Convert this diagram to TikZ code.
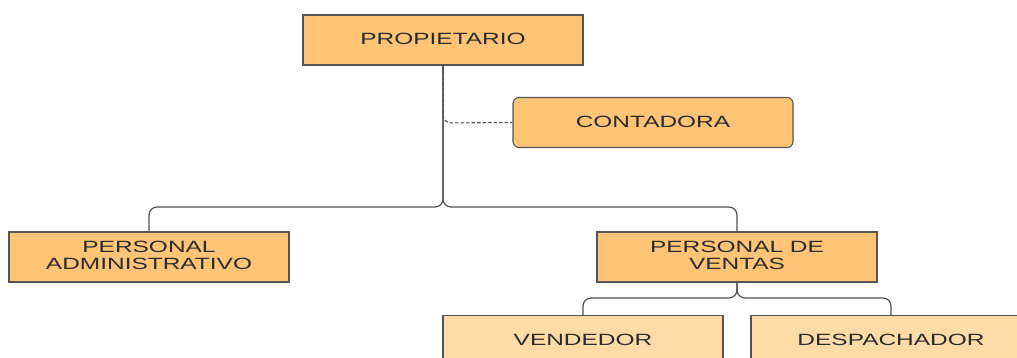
\documentclass[tikz,border=0pt]{standalone}
\usepackage{fontspec}
\newfontfamily\wf[FakeStretch=1.5]{Liberation Sans}
\definecolor{orgfill}{HTML}{FFC475}
\definecolor{ltfill}{HTML}{FFDBA8}
\definecolor{bord}{HTML}{555555}
\definecolor{txt}{HTML}{2B2B2B}
\definecolor{wire}{HTML}{505050}
\tikzset{
  box/.style={draw=bord, line width=1.1pt, fill=orgfill, minimum width=280pt, minimum height=50pt,
    inner sep=0pt, align=center, text=txt, font=\wf\fontsize{16.3pt}{18pt}\selectfont},
  ltbox/.style={box, fill=ltfill},
  rbox/.style={box, rounded corners=6pt},
  wirestyle/.style={draw=wire, line width=1.2pt, rounded corners=8pt},
}
\begin{document}
\begin{tikzpicture}[x=1pt,y=-1pt]
\clip (0,0) rectangle (1017,358);
\fill[white] (0,0) rectangle (1017,358);
\coordinate (j1) at (443,207);
\coordinate (j2) at (737,298);
\coordinate (jd) at (443,123);
\node[box] (prop) at (443,40) {\raisebox{2pt}{PROPIETARIO}};
\node[rbox] (cont) at (653,122.5) {\raisebox{2pt}{CONTADORA}};
\node[box] (adm) at (149,257) {\raisebox{2pt}{\begin{tabular}{@{}c@{}}PERSONAL\\[-1pt]ADMINISTRATIVO\end{tabular}}};
\node[box] (ven) at (737,257) {\raisebox{2pt}{\begin{tabular}{@{}c@{}}PERSONAL DE\\[-1pt]VENTAS\end{tabular}}};
\node[ltbox] (vend) at (583,340.5) {\raisebox{2pt}{VENDEDOR}};
\node[ltbox] (desp) at (891,340.5) {\raisebox{2pt}{DESPACHADOR}};
\draw[wirestyle] (prop.south) -- (j1) -| (adm.north);
\draw[wirestyle] (prop.south) -- (j1) -| (ven.north);
\draw[wirestyle, line width=1.1pt, dash pattern=on 3.5pt off 2pt] (prop.south) -- (jd) -- (cont.west);
\draw[wirestyle] (ven.south) -- (j2) -| (vend.north);
\draw[wirestyle] (ven.south) -- (j2) -| (desp.north);
\end{tikzpicture}
\end{document}
